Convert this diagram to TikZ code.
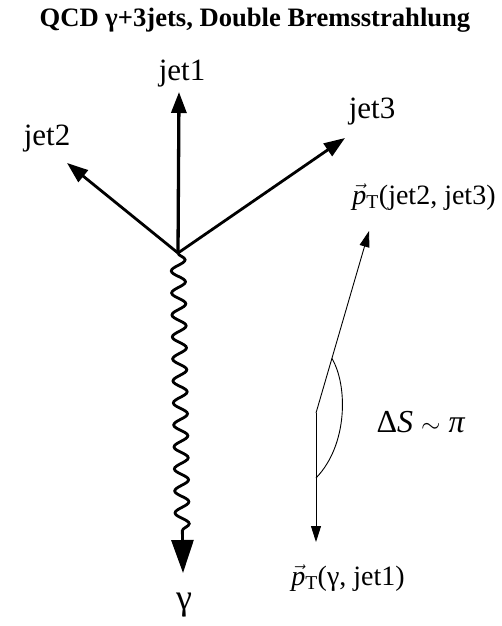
\documentclass[tikz,border=0pt]{standalone}
\usepackage{fontspec}
\setmainfont{Liberation Serif}
\usetikzlibrary{arrows.meta,calc,decorations.pathmorphing}

\begin{document}
\begin{tikzpicture}[x=1pt,y=-1pt,
    lbl/.style={inner sep=0pt,font=\fontsize{31}{34}\selectfont},
    ptlbl/.style={inner sep=0pt,font=\fontsize{28}{32}\selectfont},
    jet/.style={line width=2.8pt,-{Triangle[length=21pt,width=15pt]}},
    photon/.style={line width=2.8pt,decorate,
      decoration={snake,amplitude=7pt,segment length=22pt,post length=33pt},
      -{Triangle[length=33pt,width=22pt]}},
    ptvec/.style={line width=0.9pt,-{Triangle[length=16pt,width=10pt]}}]
  \useasboundingbox (0,0) rectangle (502,626);
  \node[inner sep=0pt,font=\fontsize{26.6}{30}\selectfont\bfseries] (title) at (255,20)
    {QCD γ+3jets, Double Bremsstrahlung};
  \coordinate (vtx) at (178,253);
  \coordinate (tip1) at (179,92);
  \coordinate (tip2) at (67,163);
  \coordinate (tip3) at (345,138);
  \coordinate (tipg) at (183,573);
  \node[lbl] (jet1) at (182,74) {jet1};
  \node[lbl] (jet2) at (47,139) {jet2};
  \node[lbl] (jet3) at (372,112) {jet3};
  \node[lbl,font=\fontsize{36}{40}\selectfont] (gamma) at (184,605) {γ};
  \draw[jet,line width=3.3pt] (vtx) -- (tip1);
  \draw[jet] (vtx) -- (tip2);
  \draw[jet] (vtx) -- (tip3);
  \draw[photon] (vtx) -- (tipg);
  \coordinate (bend) at (316,413);
  \coordinate (ptA) at (369,231);
  \coordinate (ptB) at (316,542);
  \coordinate (arcA) at ($(bend)!0.3!(ptA)$);
  \coordinate (arcB) at (316,478);
  \node[ptlbl] (pt23) at (424,197) {$\vec{\mathit{p}}_{\mathrm{T}}$(jet2, jet3)};
  \node[ptlbl] (ptg1) at (348,578) {$\vec{\mathit{p}}_{\mathrm{T}}$(γ, jet1)};
  \node[lbl,font=\fontsize{32}{35}\selectfont] (dS) at (421,422) {Δ\textit{S} $\sim$ \textit{π}};
  \draw[ptvec] (bend) -- (ptA);
  \draw[ptvec] (bend) -- (ptB);
  \draw[line width=0.9pt] (arcA) .. controls +(16,27) and +(32,-33) .. (arcB);
\end{tikzpicture}
\end{document}
